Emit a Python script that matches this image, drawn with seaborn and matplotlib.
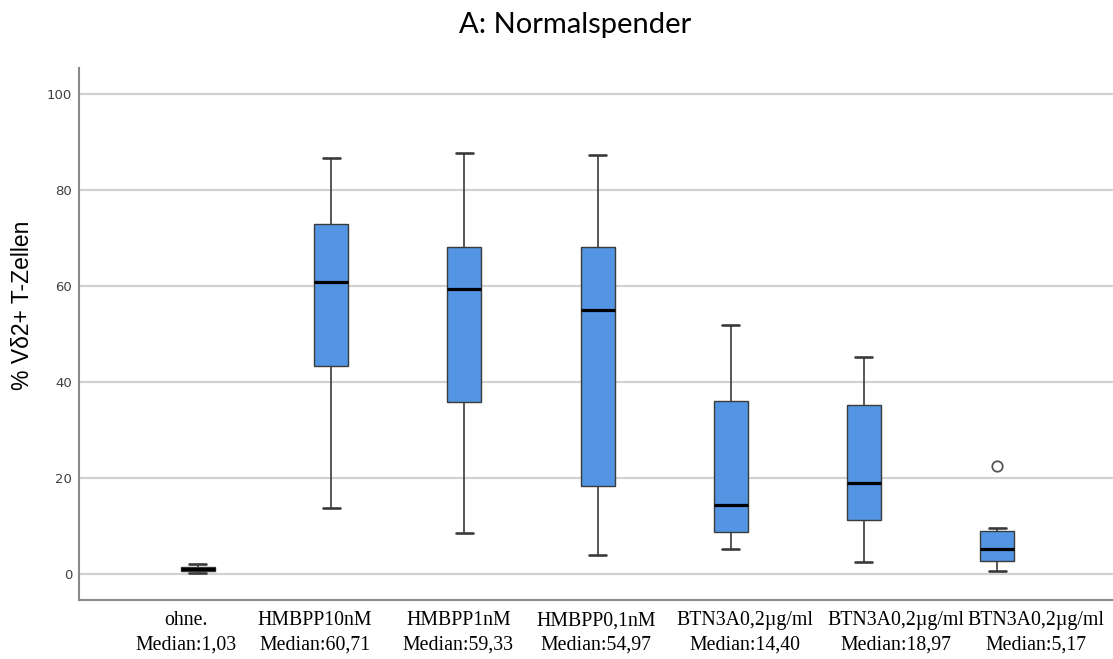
import matplotlib
matplotlib.use("Agg")
import matplotlib.pyplot as plt
import matplotlib.transforms as mtransforms
import pandas as pd
import seaborn as sns

# Stimulation conditions (ids keep the three BTN3A groups apart)
group_ids = ["ohne", "HMBPP10", "HMBPP1", "HMBPP01", "BTN3A_1", "BTN3A_2", "BTN3A_3"]
group_names = ["ohne.", "HMBPP10nM", "HMBPP1nM", "HMBPP0,1nM",
               "BTN3A0,2µg/ml", "BTN3A0,2µg/ml", "BTN3A0,2µg/ml"]

# Five-number summaries per condition (% Vδ2+ T cells)
whisker_low = [0.25, 13.6, 8.4, 3.9, 5.1, 2.5, 0.6]
quartile_1 = [0.55, 43.3, 35.8, 18.3, 8.7, 11.1, 2.65]
medians = [1.03, 60.71, 59.33, 54.97, 14.40, 18.97, 5.17]
quartile_3 = [1.45, 72.85, 68.1, 68.0, 36.0, 35.2, 8.96]
whisker_high = [1.95, 86.6, 87.6, 87.2, 51.8, 45.2, 9.6]

# Outlying observations
outlier_groups = ["BTN3A_3"]
outlier_values = [22.5]

y_ticks = [0, 20, 40, 60, 80, 100]

rows = []
for gid, lo, a, m, b, hi in zip(group_ids, whisker_low, quartile_1, medians,
                                quartile_3, whisker_high):
    for v in (lo, a, m, b, hi):
        rows.append({"group": gid, "value": v})
df = pd.DataFrame(rows)
df_out = pd.DataFrame({"group": outlier_groups, "value": outlier_values})

tick_labels = [f"{n}\nMedian:" + f"{m:.2f}".replace(".", ",")
               for n, m in zip(group_names, medians)]

sns.set_theme(style="white")

fig = plt.figure(figsize=(11.13, 6.59), dpi=100)
ax = fig.add_axes([0.071, 0.0895, 0.929, 0.8073])

box_color = "#5395E3"
line_color = "#3a3a3a"

sns.boxplot(data=df, x="group", y="value", order=group_ids, width=0.255,
            color=box_color, saturation=1, linecolor=line_color,
            linewidth=1.0, showfliers=False,
            medianprops=dict(color="black", linewidth=2.3),
            whiskerprops=dict(color=line_color, linewidth=1.2),
            capprops=dict(color=line_color, linewidth=1.9),
            ax=ax)

sns.stripplot(data=df_out, x="group", y="value", order=group_ids,
              jitter=False, color="white", edgecolor="#555555",
              linewidth=1.3, size=7.5, ax=ax)

ax.set_xlim(-0.893, 6.87)
ax.set_ylim(-5.48, 105.35)
ax.set_yticks(y_ticks)
ax.set_xticks(range(len(group_ids)))
ax.set_xticklabels(tick_labels, fontfamily="Liberation Serif",
                   fontsize=14.3, color="black")
ax.set_xlabel("")

ax.tick_params(axis="x", length=0, pad=8)
ax.tick_params(axis="y", length=0, pad=5, labelsize=9.5, labelcolor="#404040")
for lab in ax.get_yticklabels():
    lab.set_fontfamily("DejaVu Sans")

ax.yaxis.grid(True, color="#d2d2d2", linewidth=1.6)
ax.xaxis.grid(False)
ax.set_axisbelow(True)

sns.despine(ax=ax)
for side in ("left", "bottom"):
    ax.spines[side].set_color("#8a8a8a")
    ax.spines[side].set_linewidth(1.5)

ax.set_ylabel("% Vδ2+ T-Zellen", fontsize=16.5, fontfamily="Liberation Sans",
              color="black")
ax.yaxis.set_label_coords(-0.0542, 0.5545)
ax.yaxis.label.set_verticalalignment("center")

fig.text(575 / 1113, 1 - 25 / 659, "A: Normalspender", ha="center",
         va="center", fontsize=21, fontfamily="Lato", color="black")

# Category labels sit slightly off the box centres
label_shift_px = [-12, -16, -6, -1.5, 14, 31.5, 39]
for lab, dx in zip(ax.get_xticklabels(), label_shift_px):
    lab.set_linespacing(1.4)
    lab.set_transform(lab.get_transform() +
                      mtransforms.ScaledTranslation(dx / 100, 0,
                                                    fig.dpi_scale_trans))

fig.savefig("out.png", dpi=100)
